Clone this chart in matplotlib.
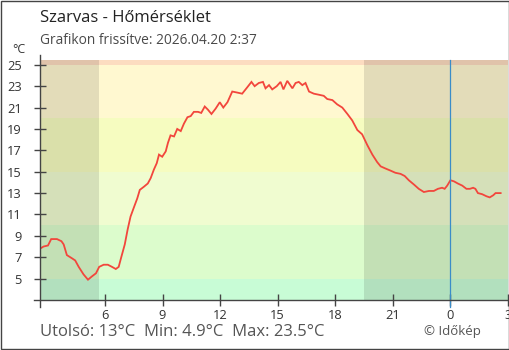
import matplotlib
matplotlib.use("Agg")
import matplotlib.pyplot as plt
from matplotlib.patches import Rectangle
from matplotlib.lines import Line2D

plt.rcParams['font.family'] = ['Open Sans', 'DejaVu Sans']

# Szarvas temperature log, last 24 hours (local time, HH:MM)
times = [
    "02:37", "02:48", "03:02", "03:12", "03:30", "03:44", "03:51", "04:01", "04:17", "04:27",
    "04:38", "04:53", "05:07", "05:19", "05:32", "05:42", "05:56", "06:09", "06:22", "06:34",
    "06:43", "06:51", "07:02", "07:11", "07:20", "07:31", "07:41", "07:49", "08:02", "08:14",
    "08:23", "08:33", "08:42", "08:49", "08:59", "09:10", "09:17", "09:25", "09:36", "09:46",
    "09:57", "10:07", "10:18", "10:28", "10:38", "10:51", "11:01", "11:12", "11:22", "11:33",
    "11:46", "11:59", "12:10", "12:23", "12:38", "12:54", "13:09", "13:25", "13:38", "13:48",
    "14:01", "14:14", "14:22", "14:33", "14:43", "14:57", "15:09", "15:18", "15:30", "15:46",
    "15:56", "16:06", "16:17", "16:27", "16:38", "16:53", "17:09", "17:24", "17:35", "17:51",
    "18:06", "18:22", "18:38", "18:53", "19:09", "19:24", "19:40", "19:56", "20:11", "20:22",
    "20:37", "20:53", "21:08", "21:24", "21:37", "21:50", "22:06", "22:21", "22:37", "22:53",
    "23:08", "23:21", "23:34", "23:42", "23:50", "00:00", "00:11", "00:23", "00:37", "00:50",
    "01:01", "01:11", "01:18", "01:26", "01:39", "01:53", "02:03", "02:14", "02:21", "02:37",
]
temps = [
    7.8, 8.0, 8.1, 8.7, 8.7, 8.5, 8.2, 7.2, 6.9, 6.7,
    6.1, 5.4, 4.9, 5.2, 5.5, 6.1, 6.3, 6.3, 6.1, 5.9,
    6.1, 7.0, 8.2, 9.6, 10.8, 11.7, 12.5, 13.3, 13.6, 13.9,
    14.4, 15.2, 15.8, 16.6, 16.4, 16.9, 17.7, 18.4, 18.3, 19.0,
    18.8, 19.5, 20.1, 20.2, 20.6, 20.6, 20.5, 21.1, 20.8, 20.4,
    20.9, 21.5, 21.0, 21.5, 22.5, 22.4, 22.3, 22.9, 23.4, 23.0,
    23.3, 23.4, 22.8, 23.1, 22.7, 23.0, 23.4, 22.7, 23.5, 22.8,
    23.3, 23.4, 23.1, 23.3, 22.5, 22.3, 22.2, 22.1, 21.8, 21.7,
    21.3, 21.0, 20.4, 19.8, 18.9, 18.5, 17.5, 16.6, 15.9, 15.5,
    15.3, 15.1, 14.9, 14.8, 14.6, 14.2, 13.8, 13.4, 13.1, 13.2,
    13.2, 13.4, 13.5, 13.4, 13.7, 14.2, 14.1, 13.9, 13.7, 13.4,
    13.4, 13.5, 13.4, 13.0, 12.9, 12.7, 12.6, 12.8, 13.0, 13.0,
]

# Temperature colour bands (lower bound, upper bound, colour)
band_edges = [3, 5, 10, 15, 20, 25, 30]
band_colors = ["#c8fcd6", "#dcfccc", "#f0fcd0", "#f6fcc0", "#fff8d0", "#fcdcc0"]

sunrise = "05:40"
sunset = "19:31"
x_tick_hours = [6, 9, 12, 15, 18, 21, 0, 3]
y_ticks = [5, 7, 9, 11, 13, 15, 17, 19, 21, 23, 25]

title = "Szarvas - Hőmérséklet"
subtitle = "Grafikon frissítve: 2026.04.20 2:37"
footer = "Utolsó: 13°C  Min: 4.9°C  Max: 23.5°C"
credit = "© Időkép"


def to_hours(hhmm):
    h, m = hhmm.split(":")
    return int(h) + int(m) / 60.0


# continuous hour axis: times after midnight roll over into the next day
hours = []
offset = 0.0
prev = None
for t in times:
    v = to_hours(t)
    if prev is not None and v + offset < prev:
        offset += 24.0
    prev = v + offset
    hours.append(prev)

t_start, t_end = hours[0], 27.0

W, H = 510, 350
fig = plt.figure(figsize=(W / 100, H / 100), dpi=100)
ax = fig.add_axes([40 / W, 50 / H, 468 / W, 240 / H])
ax.set_xlim(t_start, t_end)
ax.set_ylim(3, 25.45)

for lo, hi, c in zip(band_edges[:-1], band_edges[1:], band_colors):
    ax.axhspan(lo, hi, color=c, lw=0, zorder=0)

ax.axvspan(t_start, to_hours(sunrise), color="black", alpha=0.11, lw=0, zorder=1)
ax.axvspan(to_hours(sunset), t_end, color="black", alpha=0.11, lw=0, zorder=1)

ax.plot(hours, temps, color="#f2463c", lw=1.3, zorder=3, solid_joinstyle="miter")

ax.axvline(24, ymin=-6.7 / 240, ymax=1, color="#3a8cc8", lw=0.9, clip_on=False, zorder=4)

for s in ax.spines.values():
    s.set_visible(False)
ax.add_line(Line2D([0, 0], [-6.7 / 240, 1 + 5 / 240], transform=ax.transAxes,
                   color="#444444", lw=1, clip_on=False, zorder=5))
ax.add_line(Line2D([-6 / 468, 1.01], [0, 0], transform=ax.transAxes,
                   color="#444444", lw=1, clip_on=False, zorder=5))

ax.set_xticks([h if h >= 6 else h + 24 for h in x_tick_hours])
ax.set_xticklabels([str(h) for h in x_tick_hours])
ax.set_yticks(y_ticks)
ax.set_yticklabels([str(v) for v in y_ticks])
ax.tick_params(direction="inout", length=9, width=1, color="#444444",
               labelsize=9.3, labelcolor="#333333")
ax.tick_params(axis="y", pad=8.5)
ax.tick_params(axis="x", pad=2.2)


def ftext(x, y, s, **kw):
    fig.text(x / W, 1 - y / H, s, va="center", **kw)


ftext(40, 18.5, title, fontsize=12, color="#222222")
ftext(40, 40.5, subtitle, fontsize=9.9, color="#4a4a4a")
ftext(12, 49.5, "°C", fontsize=9, color="#333333")
ftext(40, 332.5, footer, fontsize=12, color="#555555")
ftext(424, 331, credit, fontsize=9.5, color="#555555")

fig.patches.append(Rectangle((0.5 / W, 1.5 / H), 509 / W, 348 / H, transform=fig.transFigure,
                             fill=False, ec="#444444", lw=1))

fig.savefig("out.png", dpi=100)
